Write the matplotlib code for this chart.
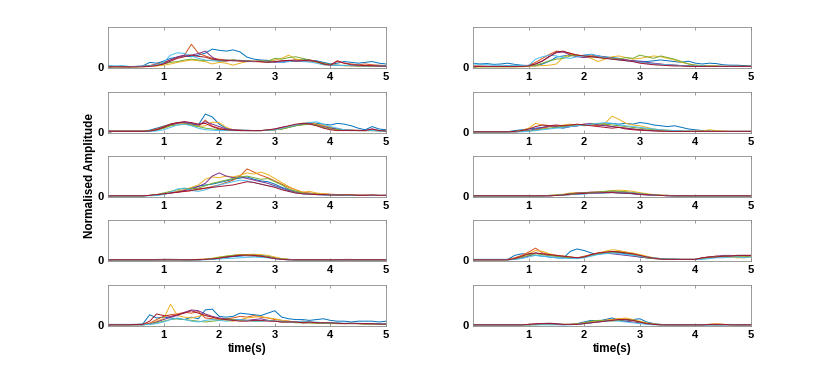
import numpy as np
import matplotlib
matplotlib.use("Agg")
import matplotlib.pyplot as plt

plt.rcParams['font.family'] = ['Liberation Sans', 'DejaVu Sans']

# time axis (s), one sample every 0.125 s
t = np.linspace(0, 5, 41)

# MATLAB default colour order
colors = ['#0072BD', '#D95319', '#EDB120', '#7E2F8E', '#77AC30', '#4DBEEE', '#A2142F']

# --- values, % of panel height ---
# row 1, left
A_blue = [3,2,2,1,2,3,12,10,15,22,25,28,26,30,35,45,42,40,43,38,25,20,18,17,15,12,16,18,20,17,16,12,8,10,14,12,10,12,14,10,8]
A_orange = [2,2,1,1,1,2,4,8,12,18,24,30,57,35,28,22,20,18,17,15,16,14,13,12,14,15,17,18,16,14,12,8,6,14,10,8,6,8,6,5,4]
A_yellow = [1,1,1,1,1,1,2,3,5,8,12,15,18,16,14,8,12,10,5,10,14,15,16,14,18,22,30,20,18,16,12,6,5,4,4,3,4,3,3,2,2]
A_purple = [1,1,1,1,2,2,4,6,10,18,26,30,30,34,40,25,16,15,18,16,14,14,15,15,12,13,14,16,15,16,14,10,6,5,4,4,3,3,3,2,2]
A_green = [1,1,1,1,1,2,3,5,8,12,14,18,20,18,16,18,15,16,18,17,16,14,16,15,22,20,24,26,22,18,14,10,6,5,4,4,3,3,3,3,3]
A_cyan = [4,3,4,2,1,2,3,6,12,30,36,34,28,22,18,16,15,18,16,17,15,14,15,12,14,12,14,15,14,13,10,6,5,4,5,4,5,3,4,3,3]
A_red = [1,1,1,1,1,1,2,4,8,15,22,26,30,27,25,20,18,17,16,16,15,15,14,12,14,16,17,15,16,18,14,8,5,16,10,6,5,4,4,3,3]

# row 1, right
B_blue = [10,8,9,7,8,10,7,5,4,3,8,15,25,28,30,28,30,32,28,26,24,22,18,16,15,14,16,18,16,14,12,15,10,8,10,9,6,5,5,4,3]
B_orange = [3,3,2,2,2,2,2,3,5,12,22,32,40,38,35,30,28,30,26,25,22,20,18,15,12,10,8,7,6,5,4,3,3,3,2,2,2,2,2,2,2]
B_yellow = [1,1,1,1,1,1,1,1,2,3,4,5,8,25,32,30,28,22,14,20,26,28,24,20,22,25,28,26,22,18,12,8,5,4,3,3,2,2,2,2,2]
B_purple = [2,2,2,2,2,2,2,3,4,8,15,28,36,38,30,26,24,26,28,24,22,20,18,16,14,12,10,8,6,5,4,3,3,2,2,2,2,2,2,2,2]
B_green = [1,1,1,1,1,1,1,2,3,5,10,16,20,22,28,30,28,26,24,22,22,20,24,22,30,26,22,28,24,20,14,8,5,4,3,3,2,2,2,2,2]
B_cyan = [8,7,6,5,5,4,5,4,4,20,26,30,28,24,22,26,28,32,28,24,20,18,16,14,12,10,8,7,6,5,4,3,3,3,2,2,2,2,2,2,2]
B_red = [2,2,2,2,2,2,2,2,3,8,16,26,38,40,34,30,28,26,24,22,20,18,16,14,10,8,6,5,4,3,3,2,2,2,2,2,2,2,2,2,2]

# row 2, left
C_blue = [3,3,3,3,3,3,5,10,15,20,22,24,20,18,45,38,20,10,6,5,5,4,4,5,6,8,12,16,20,24,22,20,18,22,20,16,10,6,14,8,6]
C_orange = [3,3,3,3,3,3,4,8,14,20,24,22,18,14,30,15,10,6,5,4,4,4,4,5,6,10,14,18,22,22,20,16,12,8,6,5,5,4,4,4,4]
C_yellow = [2,2,2,2,2,2,3,6,10,16,22,20,18,14,16,25,24,12,6,5,4,4,4,5,6,8,12,18,22,25,20,16,12,8,6,5,4,4,4,4,4]
C_purple = [2,2,2,2,2,2,3,6,12,18,22,26,22,18,26,20,14,8,6,5,4,4,4,5,8,12,14,18,20,22,18,14,10,8,6,5,4,4,8,4,3]
C_green = [2,2,2,2,2,2,3,5,10,16,18,20,18,14,10,8,6,5,4,4,4,4,4,5,6,8,12,16,18,20,18,12,8,6,5,4,4,4,4,3,3]
C_cyan = [2,2,2,2,2,2,2,3,6,12,18,20,16,10,6,5,4,4,4,4,4,4,4,5,6,10,14,18,22,24,26,20,14,10,6,5,4,4,4,3,3]
C_red = [2,2,2,2,2,2,3,6,12,20,24,26,24,20,22,14,8,6,5,4,4,4,4,6,8,12,16,20,22,20,16,10,6,4,4,4,4,4,8,4,3]

# row 2, right
D_blue = [1,1,1,1,1,1,4,6,8,10,12,14,12,10,14,16,18,20,18,20,22,20,22,20,24,22,18,16,14,16,12,8,6,4,3,2,2,2,2,2,2]
D_orange = [1,1,1,1,1,1,1,2,4,6,10,14,16,14,16,18,20,18,16,18,14,12,10,8,6,5,4,3,3,2,2,2,2,2,2,2,2,2,2,2,2]
D_yellow = [1,1,1,1,1,1,2,4,10,22,18,16,14,18,20,16,18,20,18,22,40,32,22,18,16,12,8,6,5,4,3,3,3,3,6,4,3,2,2,2,2]
D_purple = [1,1,1,1,1,1,1,2,4,8,12,16,14,12,14,16,20,22,18,16,14,12,10,8,6,5,4,3,3,2,2,2,2,2,2,2,2,2,2,2,2]
D_green = [1,1,1,1,1,1,1,2,3,5,8,10,12,14,16,18,16,20,22,20,18,16,14,12,10,8,6,5,4,3,3,2,2,2,2,2,2,2,2,2,2]
D_cyan = [1,1,1,1,1,1,1,1,2,4,6,8,10,12,14,16,18,20,22,24,22,18,16,14,12,10,8,6,5,4,3,3,2,2,2,2,2,2,2,2,2]
D_red = [1,1,1,1,1,1,2,4,8,14,18,16,18,16,18,20,18,16,14,12,10,12,8,6,5,4,3,3,2,2,2,2,2,2,2,2,2,2,2,2,2]

# row 3, left
E_blue = [1,1,1,1,1,1,2,3,5,8,12,16,20,25,28,30,34,38,42,45,48,42,38,36,30,22,16,12,8,6,5,4,4,3,3,3,2,2,2,2,2]
E_orange = [1,1,1,1,1,1,2,4,6,8,10,12,14,16,20,24,28,34,40,50,68,60,52,46,38,30,22,16,10,8,6,6,5,4,4,3,3,3,3,2,2]
E_yellow = [1,1,1,1,1,1,2,3,5,8,12,16,22,28,42,48,46,50,48,52,58,55,60,54,44,34,24,16,10,12,8,6,4,3,3,3,2,2,2,2,2]
E_purple = [1,1,1,1,1,1,2,3,5,8,10,14,18,24,32,50,58,50,46,48,44,40,36,32,26,20,14,10,6,5,4,3,3,3,2,2,2,2,2,2,2]
E_green = [1,1,1,1,1,1,2,4,8,12,16,20,18,20,26,32,36,40,44,48,50,46,42,44,36,28,18,12,8,6,5,4,3,3,3,2,2,2,2,2,2]
E_cyan = [1,1,1,1,1,1,1,2,4,10,18,20,14,12,16,22,28,32,36,40,38,34,30,26,24,18,12,8,6,5,4,3,3,3,2,2,2,2,2,2,2]
E_red = [1,1,1,1,1,1,2,4,6,8,10,12,14,18,20,22,24,26,28,32,36,34,30,26,22,16,12,8,6,5,4,4,3,3,3,3,2,2,3,2,2]

# row 3, right
F_blue = [1,1,1,1,1,1,1,1,1,1,1,2,2,3,4,5,6,7,8,8,9,8,7,6,5,4,3,2,2,1,1,1,1,1,1,1,1,1,1,1,1]
F_orange = [1,1,1,1,1,1,1,1,1,1,1,1,2,3,4,6,8,9,10,11,12,12,10,8,6,4,3,2,2,1,1,1,1,1,1,1,1,1,1,1,1]
F_yellow = [1,1,1,1,1,1,1,1,1,1,1,2,3,5,8,9,8,10,11,12,14,15,14,12,9,6,4,3,2,2,1,1,1,1,1,1,1,1,1,1,1]
F_purple = [1,1,1,1,1,1,1,1,1,1,1,1,2,4,6,8,9,10,10,11,10,9,8,6,4,3,2,2,1,1,1,1,1,1,1,1,1,1,1,1,1]
F_green = [1,1,1,1,1,1,1,1,1,1,1,2,3,4,6,7,8,9,10,12,13,12,11,9,7,5,3,2,2,1,1,1,1,1,1,1,1,1,1,1,1]
F_cyan = [1,1,1,1,1,1,1,1,1,1,1,1,2,3,4,5,6,7,8,9,10,10,9,8,6,4,3,2,1,1,1,1,1,1,1,1,1,1,1,1,1]
F_red = [1,1,1,1,1,1,1,1,1,1,1,1,2,3,5,6,7,8,8,9,9,8,8,7,5,4,3,2,1,1,1,1,1,1,1,1,1,1,1,1,1]

# row 4, left
G_blue = [1,1,1,1,1,1,1,1,1,1,1,1,1,1,2,3,5,7,9,10,12,14,12,10,6,3,2,1,1,1,1,1,1,1,1,1,1,1,1,1,1]
G_orange = [1,1,1,1,1,1,1,2,2,2,1,1,1,1,2,3,6,8,12,14,13,12,10,8,5,3,2,1,1,1,1,1,1,1,2,2,1,1,1,1,1]
G_yellow = [1,1,1,1,1,1,1,1,1,1,1,1,1,2,3,5,8,10,12,13,14,15,14,12,8,4,2,1,1,1,1,1,1,1,1,1,1,1,1,1,1]
G_purple = [1,1,1,1,1,1,1,1,2,2,2,1,1,1,2,3,5,8,10,12,11,10,9,7,4,2,1,1,1,1,1,1,1,1,1,1,1,1,1,1,1]
G_green = [1,1,1,1,1,1,1,1,1,1,1,1,1,1,2,4,7,10,12,13,12,11,10,8,5,3,2,1,1,1,1,1,1,1,1,1,1,1,1,1,1]
G_cyan = [1,1,1,1,1,1,1,1,1,1,1,1,1,1,1,2,3,4,5,6,7,8,7,6,4,2,1,1,1,1,1,1,1,1,1,1,1,1,1,1,1]
G_red = [1,1,1,1,1,1,1,1,1,1,1,1,1,2,2,3,5,8,10,12,13,12,10,7,4,2,1,1,1,1,1,1,1,1,1,1,1,1,1,1,1]

# row 4, right
H_blue = [2,2,2,2,2,2,12,16,14,12,10,8,6,5,22,28,24,18,14,18,20,18,16,12,8,6,5,4,3,3,2,2,2,4,6,8,10,10,12,12,10]
H_orange = [1,1,1,1,1,2,6,12,20,30,18,14,12,10,8,6,10,14,18,20,20,22,20,16,12,8,5,3,2,2,2,2,2,6,8,10,8,10,8,8,10]
H_yellow = [1,1,1,1,1,1,4,10,16,24,22,16,12,10,8,6,8,12,18,22,26,24,20,18,14,10,6,4,3,2,2,2,2,4,8,10,8,8,6,6,8]
H_purple = [1,1,1,1,1,1,2,6,10,18,14,12,10,8,6,5,8,12,16,18,16,14,12,10,8,6,4,3,2,2,2,2,2,6,8,10,12,12,10,12,12]
H_green = [1,1,1,1,1,1,3,8,12,16,14,12,10,8,6,5,8,12,16,18,20,20,18,14,10,6,4,3,2,2,2,2,2,4,6,8,10,10,10,10,10]
H_cyan = [1,1,1,1,1,1,2,4,8,12,10,8,6,5,4,4,6,10,14,16,18,16,14,12,10,8,6,4,3,2,2,2,2,2,4,6,6,8,8,6,8]
H_red = [1,1,1,1,1,1,4,10,16,18,16,14,12,10,8,6,8,14,18,20,22,20,18,16,12,8,5,3,2,2,2,2,2,6,8,8,10,10,12,12,12]

# row 5, left
I_blue = [2,2,2,2,2,3,26,18,20,18,16,14,20,16,38,40,22,20,22,30,28,26,24,30,36,20,16,14,14,12,14,16,12,10,10,8,10,10,10,8,10]
I_orange = [1,1,1,1,1,2,5,14,22,26,28,32,30,34,18,16,14,16,18,22,20,24,20,18,14,12,10,8,10,8,6,6,6,5,4,4,4,4,3,3,3]
I_yellow = [1,1,1,1,1,1,3,10,16,52,24,20,18,22,26,20,14,12,10,14,18,20,22,18,16,12,10,8,6,6,5,5,4,4,4,4,4,3,3,3,3]
I_purple = [1,1,1,1,1,1,3,8,14,20,24,32,38,36,28,22,18,16,14,14,12,14,16,12,10,8,8,8,6,6,6,5,5,4,4,4,4,3,3,3,3]
I_green = [1,1,1,1,1,1,2,6,10,14,16,14,12,10,8,10,12,16,14,12,12,10,10,12,10,8,8,6,6,6,5,5,4,4,4,4,4,3,3,3,3]
I_cyan = [1,1,1,1,1,1,2,4,8,14,18,14,10,8,12,14,12,10,12,14,12,10,10,12,10,10,8,8,10,8,8,6,6,6,5,5,5,4,4,4,4]
I_red = [1,1,1,1,2,2,10,28,24,22,26,30,36,30,24,20,16,14,12,10,10,12,12,10,10,8,8,8,6,8,6,6,6,5,4,5,4,4,4,3,3]

# row 5, right
J_blue = [1,1,1,1,1,1,1,1,1,2,2,2,2,1,2,4,8,12,10,14,18,12,10,14,16,8,4,2,1,1,1,1,1,1,1,1,1,2,1,1,1]
J_orange = [1,1,1,1,1,1,1,1,2,3,4,3,2,2,2,3,6,8,10,12,14,16,15,12,8,4,2,1,1,1,1,1,1,1,2,3,2,1,1,1,1]
J_yellow = [1,1,1,1,1,1,1,1,1,2,2,2,2,2,2,3,5,8,10,12,14,16,18,14,10,6,3,2,1,1,1,1,1,1,2,3,2,1,1,1,1]
J_purple = [1,1,1,1,1,1,1,1,2,3,4,5,4,2,2,2,4,6,8,10,12,12,10,8,6,4,2,1,1,1,1,1,1,1,1,1,1,1,1,1,1]
J_green = [1,1,1,1,1,1,1,1,1,1,2,2,2,2,2,3,6,10,12,12,10,12,14,12,8,4,2,1,1,1,1,1,1,1,1,1,1,1,1,1,1]
J_cyan = [1,1,1,1,1,1,1,1,1,1,1,1,1,1,1,2,4,6,8,10,12,10,8,6,4,2,1,1,1,1,1,1,1,1,1,1,1,1,1,1,1]
J_red = [1,1,1,1,1,1,1,1,2,3,4,4,3,2,2,2,4,6,8,10,12,14,14,12,8,4,2,1,1,1,1,1,1,1,2,2,2,1,1,1,1]

panels = [
    [A_blue, A_orange, A_yellow, A_purple, A_green, A_cyan, A_red],
    [B_blue, B_orange, B_yellow, B_purple, B_green, B_cyan, B_red],
    [C_blue, C_orange, C_yellow, C_purple, C_green, C_cyan, C_red],
    [D_blue, D_orange, D_yellow, D_purple, D_green, D_cyan, D_red],
    [E_blue, E_orange, E_yellow, E_purple, E_green, E_cyan, E_red],
    [F_blue, F_orange, F_yellow, F_purple, F_green, F_cyan, F_red],
    [G_blue, G_orange, G_yellow, G_purple, G_green, G_cyan, G_red],
    [H_blue, H_orange, H_yellow, H_purple, H_green, H_cyan, H_red],
    [I_blue, I_orange, I_yellow, I_purple, I_green, I_cyan, I_red],
    [J_blue, J_orange, J_yellow, J_purple, J_green, J_cyan, J_red],
]

W, H = 830, 371
fig = plt.figure(figsize=(W / 100, H / 100), dpi=100)

col_left = [108, 473]
ax_w = 278
row_top = [27, 92, 156, 220, 285]
ax_h = 41
box_col = '#8a8a8a'

for i, series in enumerate(panels):
    r, c = divmod(i, 2)
    ax = fig.add_axes([col_left[c] / W, 1 - (row_top[r] + ax_h) / H, ax_w / W, ax_h / H])
    for k, y in enumerate(series):
        ax.plot(t, np.array(y) / 100.0, color=colors[k], lw=0.7)
    ax.set_xlim(0, 5)
    ax.set_ylim(-0.02, 1)
    ax.set_xticks([1, 2, 3, 4, 5])
    ax.set_yticks([0])
    ax.tick_params(direction='in', length=2.5, width=0.6, color=box_col,
                   top=True, right=False, labelsize=8, pad=3)
    for lab in ax.get_xticklabels() + ax.get_yticklabels():
        lab.set_fontweight('bold')
    for sp in ax.spines.values():
        sp.set_color(box_col)
        sp.set_linewidth(0.6)
    if r == 4:
        ax.set_xlabel('time(s)', fontsize=8.5, fontweight='bold', labelpad=2)

fig.text(90 / W, 1 - 175 / H, 'Normalised Amplitude', rotation=90, fontsize=8.5,
         fontweight='bold', ha='center', va='center')

fig.savefig('out.png', dpi=100)
